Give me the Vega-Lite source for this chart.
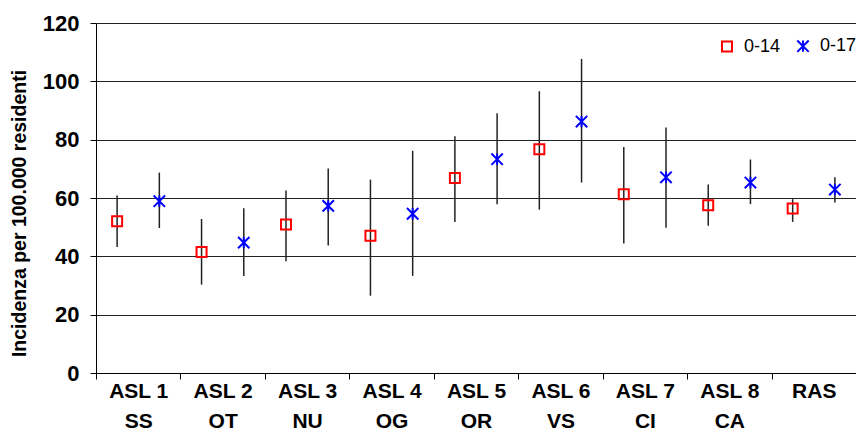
{
  "$schema": "https://vega.github.io/schema/vega-lite/v6.json",
  "autosize": "none",
  "width": 760,
  "height": 350,
  "padding": {"left": 96, "top": 23, "right": 0, "bottom": 59},
  "background": "white",
  "config": {
    "view": {"stroke": null},
    "font": "Liberation Sans"
  },
  "data": {
    "values": [
      {"cat": "ASL 1|SS", "series": "0-14", "val": 52.0, "lo": 43.2, "hi": 60.9},
      {"cat": "ASL 1|SS", "series": "0-17", "val": 58.9, "lo": 49.7, "hi": 68.7},
      {"cat": "ASL 2|OT", "series": "0-14", "val": 41.5, "lo": 30.3, "hi": 52.8},
      {"cat": "ASL 2|OT", "series": "0-17", "val": 44.7, "lo": 33.3, "hi": 56.5},
      {"cat": "ASL 3|NU", "series": "0-14", "val": 50.9, "lo": 38.3, "hi": 62.6},
      {"cat": "ASL 3|NU", "series": "0-17", "val": 57.3, "lo": 43.7, "hi": 70.1},
      {"cat": "ASL 4|OG", "series": "0-14", "val": 47.1, "lo": 26.5, "hi": 66.3},
      {"cat": "ASL 4|OG", "series": "0-17", "val": 54.6, "lo": 33.3, "hi": 76.2},
      {"cat": "ASL 5|OR", "series": "0-14", "val": 66.9, "lo": 51.8, "hi": 81.2},
      {"cat": "ASL 5|OR", "series": "0-17", "val": 73.3, "lo": 57.9, "hi": 89.1},
      {"cat": "ASL 6|VS", "series": "0-14", "val": 76.7, "lo": 56.0, "hi": 96.6},
      {"cat": "ASL 6|VS", "series": "0-17", "val": 86.2, "lo": 65.3, "hi": 107.7},
      {"cat": "ASL 7|CI", "series": "0-14", "val": 61.3, "lo": 44.4, "hi": 77.5},
      {"cat": "ASL 7|CI", "series": "0-17", "val": 67.1, "lo": 49.8, "hi": 84.2},
      {"cat": "ASL 8|CA", "series": "0-14", "val": 57.5, "lo": 50.5, "hi": 64.6},
      {"cat": "ASL 8|CA", "series": "0-17", "val": 65.3, "lo": 57.9, "hi": 73.2},
      {"cat": "RAS", "series": "0-14", "val": 56.4, "lo": 51.8, "hi": 59.6},
      {"cat": "RAS", "series": "0-17", "val": 62.9, "lo": 58.5, "hi": 67.1}
    ]
  },
  "encoding": {
    "x": {
      "field": "cat",
      "type": "nominal",
      "sort": null,
      "scale": {"paddingInner": 0, "paddingOuter": 0},
      "axis": {
        "title": null,
        "labelAngle": 0,
        "labelExpr": "split(datum.label, '|')",
        "labelFont": "Liberation Sans",
        "labelFontWeight": "bold",
        "labelFontSize": 21,
        "labelLineHeight": 30,
        "labelColor": "black",
        "labelPadding": 1,
        "labelBaseline": "top",
        "domainColor": "black",
        "domainWidth": 1,
        "tickColor": "black",
        "tickSize": 6,
        "tickBand": "extent",
        "grid": false
      }
    },
    "xOffset": {
      "field": "series",
      "type": "nominal",
      "scale": {"domain": ["0-14", "0-17"], "paddingInner": 0, "paddingOuter": 0}
    }
  },
  "layer": [
    {
      "mark": {"type": "rule", "color": "#222222", "strokeWidth": 1.5},
      "encoding": {
        "y": {
          "field": "lo",
          "type": "quantitative",
          "scale": {"domain": [0, 120], "nice": false},
          "axis": {
            "values": [0, 20, 40, 60, 80, 100, 120],
            "title": "Incidenza per 100.000 residenti",
            "titleFont": "Liberation Sans",
            "titleFontWeight": "bold",
            "titleFontSize": 19.5,
            "titleColor": "black",
            "titleAngle": -90,
            "titleBaseline": "middle",
            "titleAlign": "center",
            "titleX": -77,
            "titleY": 190,
            "labelFont": "Liberation Sans",
            "labelFontWeight": "bold",
            "labelFontSize": 22,
            "labelColor": "black",
            "labelPadding": 11,
            "domainColor": "black",
            "tickColor": "black",
            "tickSize": 6,
            "grid": true,
            "gridColor": "#222222",
            "gridWidth": 1
          }
        },
        "y2": {"field": "hi"}
      }
    },
    {
      "mark": {"type": "point", "filled": false, "strokeWidth": 2, "opacity": 1},
      "encoding": {
        "y": {"field": "val", "type": "quantitative"},
        "color": {
          "field": "series",
          "type": "nominal",
          "scale": {"domain": ["0-14", "0-17"], "range": ["#ff0000", "#0000ff"]},
          "legend": {
            "title": null,
            "orient": "none",
            "direction": "horizontal",
            "legendX": 622,
            "legendY": 14,
            "labelFont": "Liberation Sans",
            "labelFontSize": 18,
            "labelColor": "black",
            "labelOffset": 8,
            "columnPadding": 12,
            "symbolStrokeWidth": 2,
            "symbolSize": 110,
            "symbolFillColor": "transparent"
          }
        },
        "shape": {
          "field": "series",
          "type": "nominal",
          "scale": {"domain": ["0-14", "0-17"], "range": ["square", "M-1,-1L1,1M-1,1L1,-1M0,-1L0,1"]},
          "legend": null
        },
        "size": {
          "field": "series",
          "type": "nominal",
          "scale": {"domain": ["0-14", "0-17"], "range": [100, 130]},
          "legend": null
        }
      }
    }
  ]
}
